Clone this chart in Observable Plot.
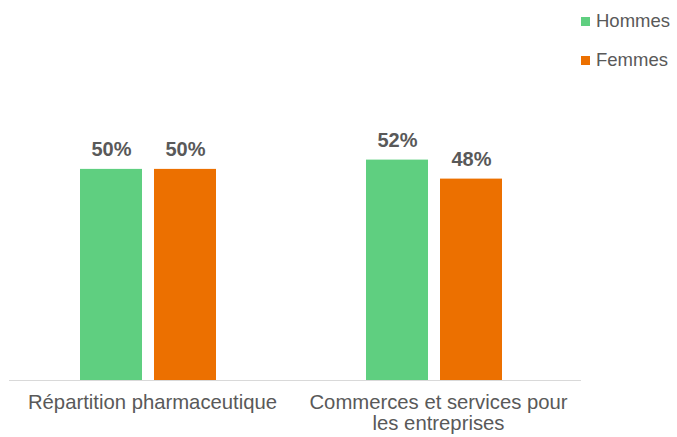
<!DOCTYPE html>
<html><head><meta charset="utf-8">
<script src="https://cdn.jsdelivr.net/npm/d3@7"></script>
<script src="https://cdn.jsdelivr.net/npm/@observablehq/plot@0.6"></script>
<style>
body{margin:0;background:#fff;font-family:"Liberation Sans",Arial,sans-serif;}
#wrap{position:relative;width:677px;height:437px;}
.item{position:absolute;left:581px;display:flex;align-items:center;white-space:nowrap;font-size:18.5px;color:#595959;line-height:22px;}
.sw{width:9px;height:9px;margin-right:6px;}
</style></head><body><div id="wrap"></div>
<script>
const categories = ["Répartition pharmaceutique", "Commerces et services pour les entreprises"];
const categoryLabels = ["Répartition pharmaceutique", "Commerces et services pour\nles entreprises"];
const series = ["Hommes", "Femmes"];
const hommes = [0.50, 0.522];
const femmes = [0.50, 0.477];
const colors = ["#5fcf80", "#ec7000"];

const rows = categories.flatMap((c, i) => [
  {category: c, sexe: series[0], value: hommes[i]},
  {category: c, sexe: series[1], value: femmes[i]}
]);

const chart = Plot.plot({
  width: 677, height: 437,
  marginLeft: 8, marginRight: 96, marginTop: 0, marginBottom: 57,
  style: {fontFamily: "Liberation Sans, Arial, sans-serif", background: "white"},
  fx: {domain: categories, padding: 0, label: null},
  x: {domain: series, paddingInner: 0.158, paddingOuter: 1.008, align: 0.477, axis: null},
  y: {domain: [0, 0.9], axis: null},
  color: {domain: series, range: colors},
  marks: [
    Plot.barY(rows, {fx: "category", x: "sexe", y: "value", fill: "sexe"}),
    Plot.text(rows, {fx: "category", x: "sexe", y: "value", text: d => d3.format(".0%")(d.value),
      lineAnchor: "bottom", dy: -13, fontWeight: "bold", fontSize: 20, fill: "#595959"}),
    Plot.ruleY([0], {stroke: "#d9d9d9", strokeWidth: 1.2}),
    Plot.axisFx({anchor: "bottom", tickSize: 0, tickPadding: 14, fontSize: 20.3, lineHeight: 1.03,
      tickFormat: c => categoryLabels[categories.indexOf(c)], label: null, fill: "#595959"})
  ]
});
const wrap = document.getElementById("wrap");
wrap.appendChild(chart);

const legendTops = [10, 49];
series.forEach((s, i) => {
  const item = document.createElement("div");
  item.className = "item";
  item.style.top = legendTops[i] + "px";
  const sw = document.createElement("span");
  sw.className = "sw";
  sw.style.background = colors[i];
  const t = document.createElement("span");
  t.textContent = s;
  item.appendChild(sw); item.appendChild(t);
  wrap.appendChild(item);
});
</script></body></html>
